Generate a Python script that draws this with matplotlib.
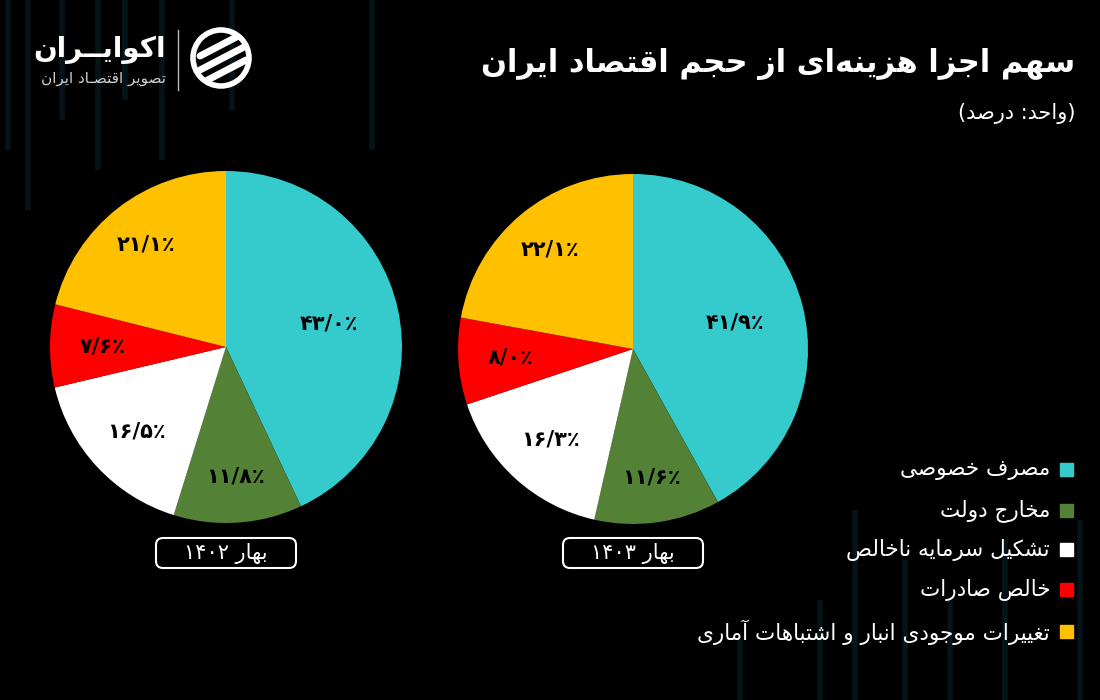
import numpy as np
import matplotlib
matplotlib.use("Agg")
import matplotlib.pyplot as plt
from matplotlib.patches import FancyBboxPatch, Rectangle, Circle

# chart data
categories = ['مصرف خصوصی', 'مخارج دولت', 'تشکیل سرمایه ناخالص',
              'خالص صادرات', 'تغییرات موجودی انبار و اشتباهات آماری']
spring_1402 = [43.0, 11.8, 16.5, 7.6, 21.1]
spring_1403 = [41.9, 11.6, 16.3, 8.0, 22.1]
period_labels = ['بهار ۱۴۰۲', 'بهار ۱۴۰۳']
colors = ['#35cbcc', '#538135', '#ffffff', '#ff0000', '#ffc000']

title = 'سهم اجزا هزینه\u200cای از حجم اقتصاد ایران'
subtitle = '(واحد: درصد)'
brand = 'اکوایــران'
brand_sub = 'تصویر اقتصـاد ایران'

# faint decorative bars in the background (x, y_top, y_bottom) in pixels
deco_bars = [(8, 0, 150), (28, 0, 210), (62, 0, 120), (98, 0, 170), (125, 0, 100),
             (162, 0, 160), (232, 0, 110), (372, 0, 150),
             (855, 510, 700), (905, 560, 700), (950, 600, 700), (1005, 540, 700),
             (1080, 520, 700), (740, 640, 700), (820, 600, 700)]

# --- minimal arabic/persian shaping (matplotlib has no text shaping) ---
DUAL = {'ب': 0xFE8F, 'پ': 0xFB56, 'ت': 0xFE95, 'ث': 0xFE99, 'ج': 0xFE9D, 'چ': 0xFB7A,
        'ح': 0xFEA1, 'خ': 0xFEA5, 'س': 0xFEB1, 'ش': 0xFEB5, 'ص': 0xFEB9, 'ض': 0xFEBD,
        'ط': 0xFEC1, 'ظ': 0xFEC5, 'ع': 0xFEC9, 'غ': 0xFECD, 'ف': 0xFED1, 'ق': 0xFED5,
        'ک': 0xFB8E, 'گ': 0xFB92, 'ل': 0xFEDD, 'م': 0xFEE1, 'ن': 0xFEE5, 'ه': 0xFEE9,
        'ی': 0xFBFC}
RIGHT = {'ا': 0xFE8D, 'آ': 0xFE81, 'د': 0xFEA9, 'ذ': 0xFEAB, 'ر': 0xFEAD, 'ز': 0xFEAF,
         'ژ': 0xFB8A, 'و': 0xFEED}
TATWEEL = '\u0640'
DIGITS = set('۰۱۲۳۴۵۶۷۸۹0123456789/٪%')


def joins_left(c):
    return c in DUAL or c == TATWEEL


def joins_right(c):
    return c in DUAL or c in RIGHT or c == TATWEEL


def fa(text):
    chars = list(text)
    out = []
    for i, c in enumerate(chars):
        if c == '\u200c':
            continue
        prev = chars[i - 1] if i > 0 else ''
        nxt = chars[i + 1] if i < len(chars) - 1 else ''
        if c in DUAL or c in RIGHT:
            p = joins_left(prev)
            n = joins_right(nxt) and c in DUAL
            base = DUAL.get(c, RIGHT.get(c))
            if p and n:
                k = 3
            elif n:
                k = 2
            elif p:
                k = 1
            else:
                k = 0
            out.append(chr(base + k))
        else:
            out.append(c)
    vis = out[::-1]
    # put number runs back in left-to-right order
    res, run = [], []
    for c in vis:
        if c in DIGITS:
            run.append(c)
        else:
            if run:
                res.extend(run[::-1])
                run = []
            res.append(c)
    res.extend(run[::-1])
    s = ''.join(res)
    return s.translate(str.maketrans('()', ')('))


def fa_num(v):
    s = f'{v:.1f}'.replace('.', '/')
    return s.translate(str.maketrans('0123456789', '۰۱۲۳۴۵۶۷۸۹')) + '٪'


plt.rcParams['font.family'] = ['DejaVu Sans']

W, H = 1100, 700
fig = plt.figure(figsize=(11, 7), dpi=100, facecolor='black')

# background / text layer in pixel coordinates
bg = fig.add_axes([0, 0, 1, 1])
bg.set_xlim(0, W)
bg.set_ylim(H, 0)
bg.axis('off')
bg.add_patch(Rectangle((0, 0), W, H, color='black', zorder=0))
for x, y0, y1 in deco_bars:
    bg.plot([x, x], [y0, y1], color='#061419', lw=4, solid_capstyle='butt', zorder=1)

bg.text(1075, 64, fa(title), color='white', fontsize=22, fontweight='bold',
        ha='right', va='center')
bg.text(1075, 113, fa(subtitle), color='white', fontsize=15, ha='right', va='center')

# logo
bg.text(166, 50, fa(brand), color='white', fontsize=20, fontweight='bold',
        ha='right', va='center')
bg.text(166, 79, fa(brand_sub), color='#d0d0d0', fontsize=11, ha='right', va='center')
bg.plot([178, 178], [30, 90], color='#bbbbbb', lw=1)
logo_clip = Circle((221, 58), 28, transform=bg.transData)
bg.add_patch(Circle((221, 58), 28, fill=False, ec='white', lw=4))
for off in (-14, 0, 14):
    bg.plot([200, 246], [70 + off, 46 + off], color='white', lw=5,
            solid_capstyle='round', clip_path=logo_clip)

# legend
leg_y = [470, 511, 550, 590, 632]
for name, c, y in zip(categories, colors, leg_y):
    bg.add_patch(Rectangle((1060, y - 7), 13, 13, color=c))
    bg.text(1050, y, fa(name), color='white', fontsize=15.5, ha='right', va='center')

# pies
pie_boxes = [(50, 171, 352), (458, 174, 350)]
label_r = [0.6, 0.74, 0.7, 0.7, 0.74]
for vals, (px, py, size), plabel in zip([spring_1402, spring_1403], pie_boxes, period_labels):
    ax = fig.add_axes([px / W, 1 - (py + size) / H, size / W, size / H])
    ax.set_facecolor('none')
    wedges, _ = ax.pie(vals, colors=colors, startangle=90, counterclock=False,
                       wedgeprops=dict(linewidth=0))
    ax.set_xlim(-1, 1)
    ax.set_ylim(-1, 1)
    ax.set_aspect('equal')
    for w, v, r in zip(wedges, vals, label_r):
        ang = np.deg2rad((w.theta1 + w.theta2) / 2)
        ax.text(r * np.cos(ang), r * np.sin(ang), fa_num(v), color='black',
                fontsize=15, fontweight='bold', ha='center', va='center')
    cx = px + size / 2
    bg.add_patch(FancyBboxPatch((cx - 70, 538), 140, 30,
                                boxstyle='round,pad=0,rounding_size=7',
                                fc='black', ec='white', lw=1.5))
    bg.text(cx, 553, fa(plabel), color='white', fontsize=15, ha='center', va='center')

fig.savefig('out.png', dpi=100, facecolor='black')
